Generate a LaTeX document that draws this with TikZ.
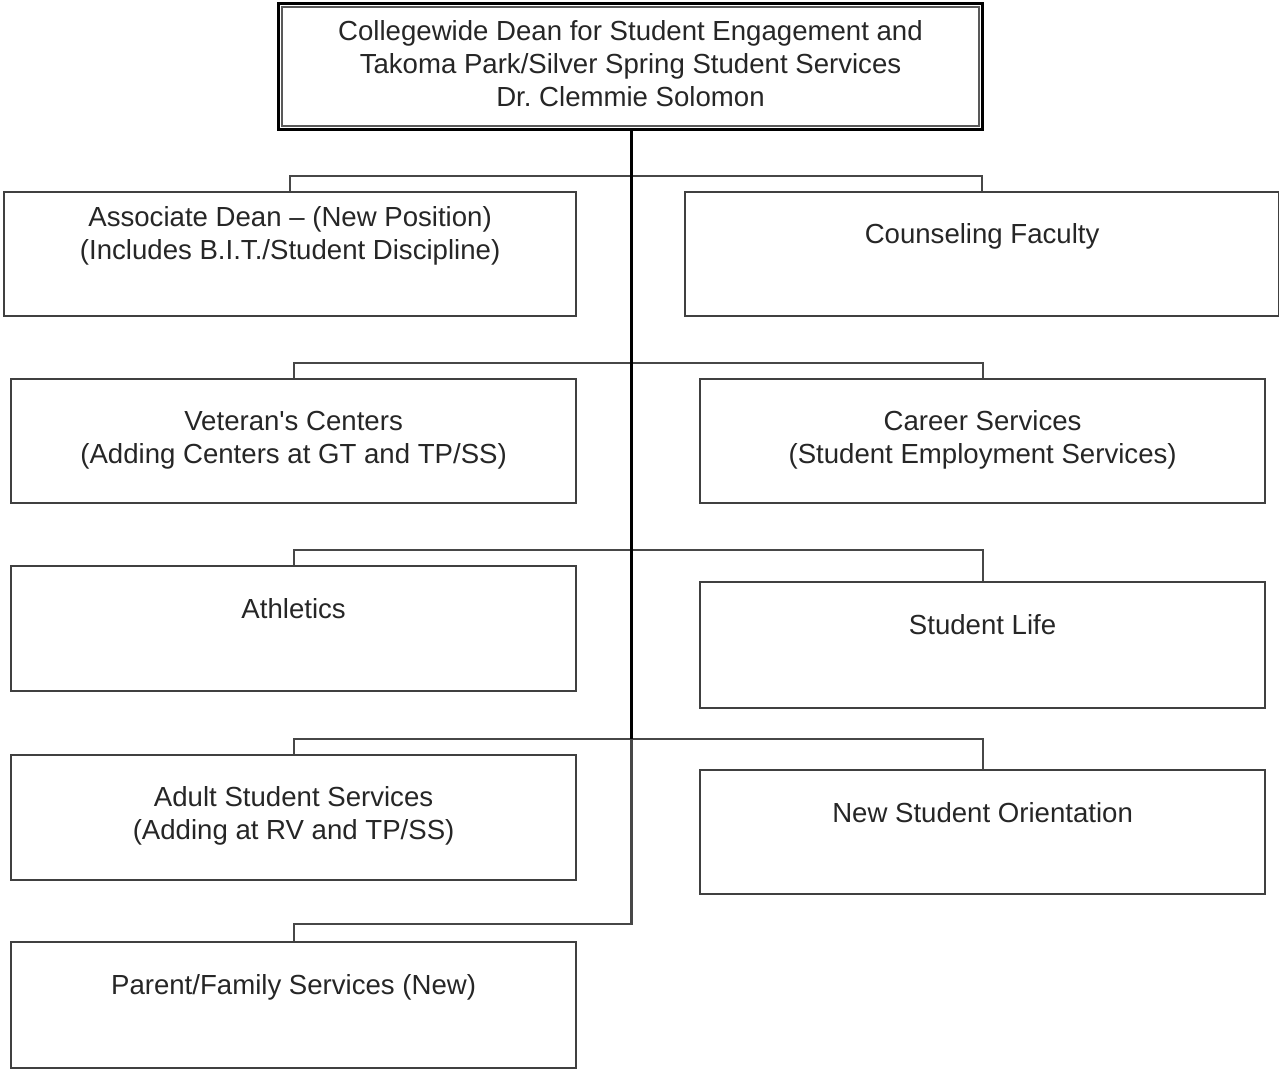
\documentclass[tikz,border=0pt]{standalone}
\usepackage{fontspec}
\setmainfont{Liberation Sans}
\usepackage{tikz}
\usetikzlibrary{positioning}
\newcommand{\boxfont}{\fontsize{27.6}{33}\selectfont}
\frenchspacing

\begin{document}
\begin{tikzpicture}[x=1pt,y=-1pt]
				\tikzstyle{unit}=[draw=black!75, line width=2.2pt, rectangle, inner sep=0pt, anchor=north west]
				\tikzstyle{txt}=[anchor=north, inner sep=0pt, align=center, font=\boxfont, text=black!85, execute at begin node=\strut]
				\tikzstyle{link}=[draw=black!72, line width=2.2pt]
				\tikzstyle{trunk}=[draw=black, line width=3.4pt]
				\useasboundingbox (0,0) rectangle (1279,1070);
				%Dean
				\node[unit, draw=black, line width=3pt, minimum width=704pt, minimum height=125.5pt](dean) at (277,2.5){};
				\draw[draw=black!65, line width=2.2pt] ([shift={(5,4.5)}]dean.north west) rectangle ([shift={(-5,-5)}]dean.south east);
				\node[txt](dean text)[below=17.5pt of dean.north]{Collegewide Dean for Student Engagement and\\Takoma Park/Silver Spring Student Services\\Dr. Clemmie Solomon};
				%First Row
				\node[unit, minimum width=572pt, minimum height=123.5pt](assoc) at (3,191){};
				\node[unit, minimum width=594pt, minimum height=123.5pt](counsel) at (684,191){};
				\node[txt](assoc text)[below=15.5pt of assoc.north]{Associate Dean – (New Position)\\(Includes B.I.T./Student Discipline)};
				\node[txt](counsel text)[below=29.5pt of counsel.north]{Counseling Faculty};
				%Second Row
				\node[unit, minimum width=565pt, minimum height=124pt](veteran) at (10,378){};
				\node[unit, minimum width=565pt, minimum height=124pt](career) at (699,378){};
				\node[txt](veteran text)[below=33pt of veteran.north]{Veteran\textquotesingle s Centers\\(Adding Centers at GT and TP/SS)};
				\node[txt](career text)[below=32pt of career.north]{Career Services\\(Student Employment Services)};
				%Third Row
				\node[unit, minimum width=565pt, minimum height=125pt](athletics) at (10,565){};
				\node[unit, minimum width=565pt, minimum height=126pt](studlife) at (699,581){};
				\node[txt](athletics text)[below=30pt of athletics.north]{Athletics};
				\node[txt](studlife text)[below=30pt of studlife.north]{Student Life};
				%Fourth Row
				\node[unit, minimum width=565pt, minimum height=125pt](adult) at (10,754){};
				\node[unit, minimum width=565pt, minimum height=124pt](orient) at (699,769){};
				\node[txt](adult text)[below=32pt of adult.north]{Adult Student Services\\(Adding at RV and TP/SS)};
				\node[txt](orient text)[below=30pt of orient.north]{New Student Orientation};
				%Fifth Row
				\node[unit, minimum width=565pt, minimum height=126pt](parent) at (10,941){};
				\node[txt](parent text)[below=30pt of parent.north]{Parent/Family Services (New)};
				%Connectors
				\coordinate (tap) at ([xshift=1pt, yshift=15pt]dean.south |- adult.north);
				\foreach \l/\r in {assoc/counsel, veteran/career, athletics/studlife, adult/orient}
					\draw[link] (\l.north) -- ++(0,-15) -| (\r.north);
				\draw[link] (tap) |- ([yshift=17pt]parent.north) -- (parent.north);
				\draw[trunk] ([xshift=1pt]dean.south) -- (tap);
				\end{tikzpicture}
\end{document}
